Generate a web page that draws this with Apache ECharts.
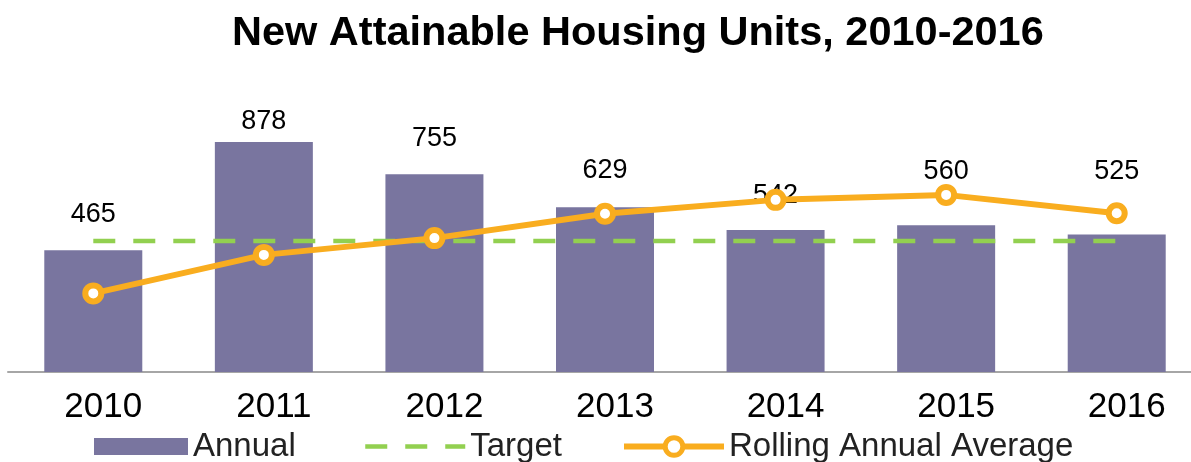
<!DOCTYPE html>
<html>
<head>
<meta charset="utf-8">
<script src="https://cdn.jsdelivr.net/npm/echarts@6/dist/echarts.min.js"></script>
<style>
  html, body { margin: 0; padding: 0; background: #fff; }
  #chart { width: 1191px; height: 462px; }
</style>
</head>
<body>
<div id="chart"></div>
<script>
// data
var years = ["2010", "2011", "2012", "2013", "2014", "2015", "2016"];
var annual = [465, 878, 755, 629, 542, 560, 525];
var target = [500, 500, 500, 500, 500, 500, 500];
var rolling = [300, 447, 511, 604, 657, 676, 606];

// extra space between each bar top and its value label (px)
var labelGap = [22, 7, 22, 23, 21, 40, 49];

var FONT = "'Liberation Sans', Arial, sans-serif";
var chart = echarts.init(document.getElementById("chart"));

var legendText = { fontSize: 33, color: "#222", fontFamily: FONT };

var option = {
  animation: false,
  textStyle: { fontFamily: FONT },
  title: {
    text: "New Attainable Housing Units, 2010-2016",
    left: 227,
    top: 8,
    textStyle: { fontSize: 41.5, fontWeight: "bold", color: "#000", fontFamily: FONT }
  },
  legend: [
    {
      data: [{ name: "Annual", icon: "rect" }],
      left: 89, top: 425,
      itemWidth: 94, itemHeight: 17,
      textStyle: legendText
    },
    {
      data: ["Target"],
      left: 358, top: 425,
      itemWidth: 100, itemHeight: 18,
      itemStyle: { color: "rgba(0,0,0,0)", borderColor: "rgba(0,0,0,0)", borderWidth: 0 },
      lineStyle: { width: 4.5 },
      textStyle: legendText
    },
    {
      data: ["Rolling Annual Average"],
      left: 616, top: 425,
      itemWidth: 100, itemHeight: 22,
      lineStyle: { width: 6 },
      itemStyle: { borderWidth: 5 },
      textStyle: legendText
    }
  ],
  grid: { left: 8, width: 1194, top: 110, height: 262, outerBoundsMode: "none" },
  xAxis: {
    type: "category",
    data: years,
    axisLine: { lineStyle: { color: "#a6a6a6", width: 2 } },
    axisTick: { show: false },
    axisLabel: {
      fontSize: 35,
      color: "#000",
      margin: 18,
      padding: [0, 0, 0, 20],
      fontFamily: FONT
    }
  },
  yAxis: {
    type: "value",
    min: 0,
    max: 1000,
    show: false,
    splitLine: { show: false }
  },
  series: [
    {
      name: "Annual",
      type: "bar",
      barWidth: 98,
      itemStyle: { color: "#79759f" },
      data: annual.map(function (v, i) {
        return { value: v, label: { distance: labelGap[i] } };
      }),
      label: {
        show: true,
        position: "top",
        fontSize: 27,
        color: "#000",
        fontFamily: FONT
      },
      z: 2
    },
    {
      name: "Target",
      type: "line",
      data: target,
      symbol: "none",
      lineStyle: { color: "#92d050", width: 4.5, type: [22, 18] },
      itemStyle: { color: "#92d050" },
      z: 3
    },
    {
      name: "Rolling Annual Average",
      type: "line",
      data: rolling,
      symbol: "circle",
      symbolSize: 16,
      lineStyle: { color: "#f9ad1f", width: 6 },
      itemStyle: { color: "#fff", borderColor: "#f9ad1f", borderWidth: 6 },
      z: 4
    }
  ]
};

chart.setOption(option);
</script>
</body>
</html>
